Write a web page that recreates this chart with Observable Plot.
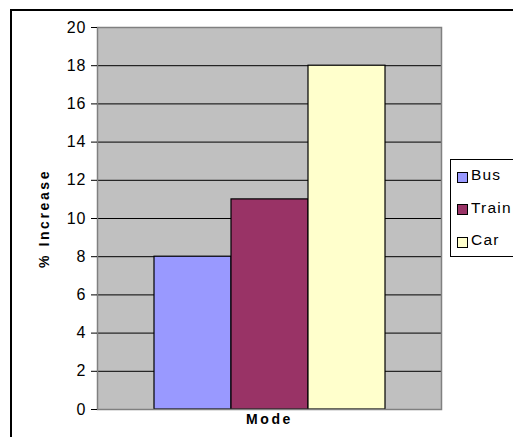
<!DOCTYPE html>
<html>
<head>
<meta charset="utf-8">
<script src="https://cdn.jsdelivr.net/npm/d3@7"></script>
<script src="https://cdn.jsdelivr.net/npm/@observablehq/plot@0.6"></script>
<style>
  html, body { margin: 0; padding: 0; background: white; }
  #wrap { position: relative; width: 513px; height: 437px; overflow: hidden; font-family: "Liberation Sans", Arial, sans-serif; }
  #border { position: absolute; left: 10px; top: 9px; width: 700px; height: 700px; border: 2px solid black; box-sizing: border-box; }
  #chart { position: absolute; left: 0; top: 0; }
  #chart svg text { font-size: 16px; letter-spacing: 1px; }
  #chart svg g.title text { font-size: 14px; font-weight: bold; letter-spacing: 2.6px; }
  #legend { position: absolute; left: 450px; top: 159px; width: 100px; height: 98px; border: 1px solid black; background: white; box-sizing: border-box; }
  .item { position: absolute; left: 6px; height: 18px; display: flex; align-items: center; font-size: 15.5px; letter-spacing: 1.2px; }
  .sw { width: 11px; height: 11px; border: 1px solid black; margin-right: 3px; margin-top: 4px; box-sizing: border-box; }
</style>
</head>
<body>
<div id="wrap">
  <div id="border"></div>
  <div id="chart"></div>
  <div id="legend"></div>
</div>
<script>
// Percentage increase by travel mode
const modes = ["Bus", "Train", "Car"];
const increases = [8, 11, 18];
const colors = ["#9999FF", "#993366", "#FFFFCC"];
const yTicks = [0, 2, 4, 6, 8, 10, 12, 14, 16, 18, 20];
const gridTicks = [2, 4, 6, 8, 10, 12, 14, 16, 18];
const yLabel = "% Increase";
const xLabel = "Mode";

const rows = modes.map((mode, i) => ({mode, value: increases[i]}));

const chart = Plot.plot({
  width: 513,
  height: 437,
  marginLeft: 97,
  marginRight: 72,
  marginTop: 27,
  marginBottom: 28,
  style: {fontFamily: "'Liberation Sans', Arial, sans-serif", background: "transparent", color: "black"},
  x: {domain: modes, paddingInner: 0, paddingOuter: 0.72, axis: null},
  y: {domain: [0, 20], axis: null},
  color: {domain: modes, range: colors},
  marks: [
    Plot.frame({fill: "#C0C0C0", stroke: "none"}),
    Plot.ruleY(gridTicks, {stroke: "black", strokeWidth: 1}),
    Plot.barY(rows, {x: "mode", y: "value", fill: "mode", stroke: "black", strokeWidth: 1.2}),
    Plot.frame({stroke: "#808080", strokeWidth: 1.5}),
    Plot.axisY({ticks: yTicks, tickSize: 6, tickPadding: 5, label: null, stroke: "black"}),
    Plot.text([yLabel], {text: d => d, frameAnchor: "left", textAnchor: "middle", dx: -53, rotate: -90, className: "title"}),
    Plot.text([xLabel], {text: d => d, frameAnchor: "bottom", dy: 14, className: "title"})
  ]
});
document.getElementById("chart").appendChild(chart);

// Legend entries
const legend = document.getElementById("legend");
modes.forEach((mode, i) => {
  const item = document.createElement("div");
  item.className = "item";
  item.style.top = (6 + i * 32.5) + "px";
  const sw = document.createElement("div");
  sw.className = "sw";
  sw.style.background = colors[i];
  const label = document.createElement("span");
  label.textContent = mode;
  item.appendChild(sw);
  item.appendChild(label);
  legend.appendChild(item);
});
</script>
</body>
</html>
